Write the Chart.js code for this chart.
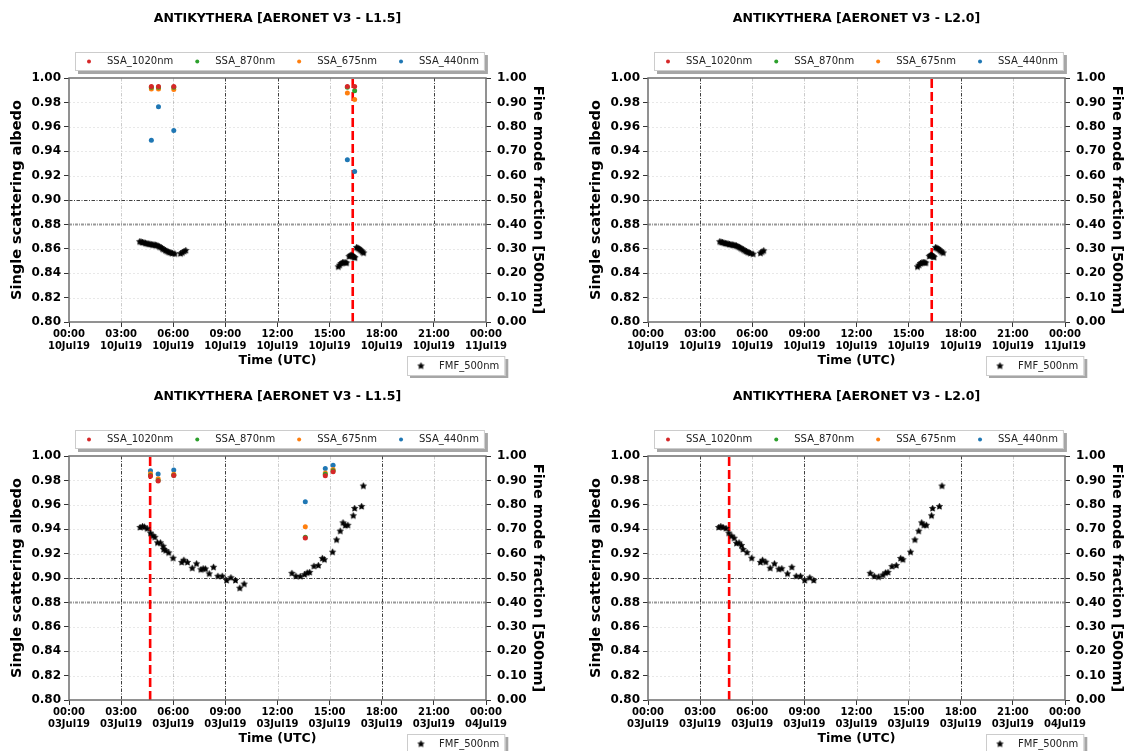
<!DOCTYPE html>
<html>
<head>
<meta charset="utf-8">
<script src="https://cdn.jsdelivr.net/npm/chart.js@4.4.1/dist/chart.umd.min.js"></script>
<style>
  html, body { margin: 0; padding: 0; background: #fff; overflow: hidden; }
  canvas { position: absolute; }
</style>
</head>
<body>
<canvas id="panel-10-l15" width="549" height="378" style="left:0px;top:0px"></canvas>
<canvas id="panel-10-l20" width="549" height="378" style="left:579px;top:0px"></canvas>
<canvas id="panel-03-l15" width="549" height="378" style="left:0px;top:378px"></canvas>
<canvas id="panel-03-l20" width="549" height="378" style="left:579px;top:378px"></canvas>
<script>
// tick labels
const hourLabels = ['00:00', '03:00', '06:00', '09:00', '12:00', '15:00', '18:00', '21:00', '00:00'];
const dayLabels10 = ['10Jul19', '10Jul19', '10Jul19', '10Jul19', '10Jul19', '10Jul19', '10Jul19', '10Jul19', '11Jul19'];
const dayLabels03 = ['03Jul19', '03Jul19', '03Jul19', '03Jul19', '03Jul19', '03Jul19', '03Jul19', '03Jul19', '04Jul19'];

// 10 Jul 2019 - SSA (level 1.5), time in hours UTC
const ssaTime10 = [4.74, 5.15, 6.03, 16.02, 16.44];
const ssa1020_10 = [0.993, 0.993, 0.993, 0.993, 0.993];
const ssa870_10 = [0.9925, 0.9925, 0.9925, 0.9924, 0.9895];
const ssa675_10 = [0.991, 0.991, 0.9905, 0.9877, 0.9824];
const ssa440_10 = [0.949, 0.9764, 0.957, 0.933, 0.9233];

// 03 Jul 2019 - SSA (level 1.5)
const ssaTime03 = [4.69, 5.13, 6.03, 13.6, 14.75, 15.2];
const ssa1020_03 = [0.9836, 0.9795, 0.984, 0.9327, 0.9838, 0.987];
const ssa870_03 = [0.9840, 0.9800, 0.9843, 0.9335, 0.985, 0.988];
const ssa675_03 = [0.9855, 0.9814, 0.985, 0.942, 0.986, 0.989];
const ssa440_03 = [0.988, 0.9852, 0.9885, 0.9625, 0.9898, 0.9924];

// fine mode fraction 500nm
const fmfTime10L15 = [4.07, 4.15, 4.23, 4.31, 4.40, 4.48, 4.56, 4.65, 4.73, 4.81, 4.89, 4.97, 5.05, 5.13, 5.21, 5.30, 5.38, 5.46, 5.55, 5.63, 5.71, 5.80, 5.88, 5.96, 6.09,
  6.42, 6.52, 6.62, 6.72,
  15.50, 15.58, 15.66, 15.74, 15.82, 15.90, 15.98,
  16.12, 16.18, 16.24, 16.30, 16.36, 16.42, 16.45,
  16.55, 16.62, 16.68, 16.75, 16.82, 16.89, 16.96];
const fmf10L15 = [0.329, 0.328, 0.326, 0.325, 0.323, 0.321, 0.320, 0.319, 0.318, 0.316, 0.316, 0.315, 0.314, 0.311, 0.308, 0.305, 0.300, 0.297, 0.293, 0.290, 0.287, 0.285, 0.283, 0.281, 0.279,
  0.280, 0.284, 0.289, 0.293,
  0.226, 0.233, 0.240, 0.243, 0.244, 0.243, 0.242,
  0.268, 0.272, 0.274, 0.271, 0.268, 0.265, 0.263,
  0.305, 0.303, 0.300, 0.296, 0.292, 0.287, 0.283];

const fmfTime10L20 = [4.13, 4.21, 4.29, 4.37, 4.45, 4.53, 4.61, 4.69, 4.77, 4.85, 4.93, 5.01, 5.09, 5.17, 5.25, 5.33, 5.41, 5.50, 5.58, 5.66, 5.74, 5.82, 5.90, 6.05,
  6.47, 6.56, 6.66,
  15.51, 15.60, 15.68, 15.76, 15.84, 15.92, 15.99,
  16.19, 16.25, 16.31, 16.37, 16.43, 16.46,
  16.55, 16.62, 16.69, 16.76, 16.83, 16.91, 16.99];
const fmf10L20 = [0.329, 0.327, 0.326, 0.324, 0.322, 0.321, 0.320, 0.318, 0.317, 0.316, 0.315, 0.314, 0.312, 0.309, 0.306, 0.303, 0.299, 0.296, 0.292, 0.289, 0.286, 0.284, 0.281, 0.278,
  0.282, 0.287, 0.292,
  0.226, 0.233, 0.240, 0.243, 0.244, 0.243, 0.242,
  0.269, 0.273, 0.274, 0.271, 0.268, 0.265,
  0.305, 0.303, 0.300, 0.296, 0.292, 0.287, 0.283];

const fmfTime03L15 = [4.09, 4.23, 4.34, 4.50, 4.69, 4.84, 4.94, 5.09, 5.26, 5.42, 5.45, 5.57, 5.74, 5.99, 6.49, 6.61, 6.82, 7.09, 7.34, 7.59,
  7.72, 7.85, 8.07, 8.32, 8.57, 8.82, 9.07, 9.32, 9.58, 9.83, 10.08,
  12.83, 13.06, 13.31, 13.56, 13.71, 13.85, 14.10, 14.35, 14.58, 14.70,
  15.17, 15.40, 15.61, 15.77, 15.90, 16.05, 16.36, 16.44, 16.84, 16.94];
const fmf03L15 = [0.707, 0.711, 0.709, 0.702, 0.684, 0.673, 0.667, 0.644, 0.644, 0.630, 0.617, 0.612, 0.603, 0.581, 0.564, 0.573, 0.564, 0.540, 0.558, 0.534,
  0.538, 0.537, 0.517, 0.544, 0.507, 0.507, 0.490, 0.501, 0.490, 0.458, 0.475,
  0.519, 0.507, 0.506, 0.514, 0.521, 0.523, 0.548, 0.551, 0.580, 0.575,
  0.606, 0.656, 0.692, 0.726, 0.715, 0.716, 0.755, 0.785, 0.793, 0.877];

const fmfTime03L20 = [4.07, 4.19, 4.32, 4.49, 4.65, 4.82, 4.96, 5.09, 5.24, 5.38, 5.47, 5.70, 5.97, 6.47, 6.59, 6.78, 7.03, 7.28, 7.53, 7.70,
  8.03, 8.28, 8.53, 8.78, 9.02, 9.31, 9.54,
  12.79, 13.02, 13.27, 13.52, 13.67, 13.81, 14.04, 14.29, 14.54, 14.67,
  15.11, 15.36, 15.58, 15.75, 15.88, 16.02, 16.32, 16.38, 16.77, 16.92];
const fmf03L20 = [0.707, 0.711, 0.707, 0.703, 0.684, 0.672, 0.663, 0.642, 0.644, 0.633, 0.617, 0.604, 0.581, 0.564, 0.573, 0.565, 0.540, 0.558, 0.536, 0.538,
  0.517, 0.544, 0.507, 0.507, 0.490, 0.501, 0.490,
  0.519, 0.507, 0.504, 0.512, 0.521, 0.523, 0.547, 0.551, 0.580, 0.575,
  0.606, 0.656, 0.692, 0.726, 0.716, 0.716, 0.755, 0.785, 0.793, 0.877];

// red dashed marker (hours UTC)
const eventTime10 = 16.33;
const eventTime03 = 4.67;

// layout of every panel canvas
const W = 549, H = 378;
const AREA_LEFT = 69, AREA_RIGHT = 486, AREA_TOP = 78, AREA_BOTTOM = 322;
const FONT = "'DejaVu Sans', sans-serif";

Chart.defaults.font.family = FONT;
Chart.defaults.color = '#000';

const ssaStyles = [
  { label: 'SSA_1020nm', color: '#d62728' },
  { label: 'SSA_870nm', color: '#2ca02c' },
  { label: 'SSA_675nm', color: '#ff7f0e' },
  { label: 'SSA_440nm', color: '#1f77b4' }
];

// filled star marker like matplotlib '*'
function starMarker(r) {
  const c = document.createElement('canvas');
  const s = Math.ceil(r * 2) + 2;
  c.width = c.height = s;
  const g = c.getContext('2d');
  g.translate(s / 2, s / 2);
  g.beginPath();
  for (let i = 0; i < 10; i++) {
    const rr = i % 2 ? r * 0.5 : r;
    const a = -Math.PI / 2 + i * Math.PI / 5;
    g.lineTo(rr * Math.cos(a), rr * Math.sin(a));
  }
  g.closePath();
  g.fillStyle = '#000';
  g.fill();
  g.strokeStyle = '#000';
  g.lineWidth = 0.6;
  g.stroke();
  return c;
}
const starImg = starMarker(3.3);

function drawLegendBox(ctx, left, top, h, items) {
  ctx.save();
  ctx.font = '10px ' + FONT;
  let x = left + 14;
  const pos = items.map(it => {
    const p = x;
    x += 18 + ctx.measureText(it.label).width + 24;
    return p;
  });
  const right = x - 24 + 6;
  ctx.fillStyle = 'rgba(0,0,0,0.35)';
  ctx.fillRect(left + 3, top + 3, right - left, h);
  ctx.fillStyle = '#fff';
  ctx.fillRect(left, top, right - left, h);
  ctx.strokeStyle = '#cccccc';
  ctx.lineWidth = 1;
  ctx.strokeRect(left + 0.5, top + 0.5, right - left - 1, h - 1);
  const cy = top + h / 2;
  items.forEach((it, i) => {
    if (it.star) {
      ctx.drawImage(starImg, pos[i] - starImg.width / 2, cy - starImg.height / 2);
    } else {
      ctx.fillStyle = it.color;
      ctx.beginPath();
      ctx.arc(pos[i], cy, 2, 0, Math.PI * 2);
      ctx.fill();
    }
    ctx.fillStyle = '#222';
    ctx.textAlign = 'left';
    ctx.textBaseline = 'middle';
    ctx.fillText(it.label, pos[i] + 18, cy);
  });
  ctx.restore();
}

// grid lines, plot frame and the two legends
const panelDecor = {
  id: 'panelDecor',
  beforeDatasetsDraw(chart, args, o) {
    const { ctx, chartArea: a, scales: { x, y } } = chart;
    ctx.save();
    ctx.lineWidth = 1;
    x.ticks.forEach(t => {
      if (t.value <= 0 || t.value >= 24) return;
      const px = Math.round(x.getPixelForValue(t.value)) + 0.5;
      const dark = o.darkX.includes(Math.round(t.value));
      ctx.strokeStyle = dark ? 'rgba(30,30,30,0.85)' : 'rgba(0,0,0,0.2)';
      ctx.setLineDash([3.5, 1.5, 1, 1.5]);
      ctx.beginPath();
      ctx.moveTo(px, a.top);
      ctx.lineTo(px, a.bottom);
      ctx.stroke();
    });
    y.ticks.forEach(t => {
      if (t.value <= 0.801 || t.value >= 0.999) return;
      const py = Math.round(y.getPixelForValue(t.value)) + 0.5;
      if (Math.abs(t.value - 0.90) < 1e-6) {
        ctx.strokeStyle = 'rgba(30,30,30,0.85)';
        ctx.lineWidth = 1;
        ctx.setLineDash([3.5, 1.5, 1, 1.5]);
      } else if (Math.abs(t.value - 0.88) < 1e-6) {
        ctx.strokeStyle = 'rgba(0,0,0,0.4)';
        ctx.lineWidth = 2;
        ctx.setLineDash([3, 1, 1, 1]);
      } else {
        ctx.strokeStyle = 'rgba(0,0,0,0.09)';
        ctx.lineWidth = 1;
        ctx.setLineDash([2, 2]);
      }
      ctx.beginPath();
      ctx.moveTo(a.left, py);
      ctx.lineTo(a.right, py);
      ctx.stroke();
    });
    ctx.restore();
  },
  afterDraw(chart) {
    const { ctx, chartArea: a } = chart;
    ctx.save();
    ctx.strokeStyle = '#6e6e6e';
    ctx.lineWidth = 1.5;
    ctx.strokeRect(a.left, a.top, a.right - a.left, a.bottom - a.top);
    ctx.restore();
    const ds = chart.data.datasets;
    drawLegendBox(ctx, 75, 52, 19,
      ds.filter(d => d.legendTop).map(d => ({ label: d.label, color: d.backgroundColor })));
    drawLegendBox(ctx, 407, 356, 20,
      ds.filter(d => d.legendBottom).map(d => ({ label: d.label, star: true })));
  }
};

function makePanel(id, p) {
  const ssaSets = [p.ssa1020, p.ssa870, p.ssa675, p.ssa440];
  const datasets = [{
    type: 'line',
    label: 'event',
    data: [{ x: p.event, y: 0.8 }, { x: p.event, y: 1.0 }],
    showLine: true,
    borderColor: '#ff0000',
    borderWidth: 2.6,
    borderDash: [9, 4],
    pointRadius: 0,
    yAxisID: 'y',
    order: 10
  }];
  // SSA_1020nm ends up on top, SSA_440nm at the bottom
  ssaStyles.forEach((s, k) => datasets.push({
    label: s.label,
    legendTop: true,
    data: p.ssaTime.map((t, i) => ({ x: t, y: ssaSets[k][i] })),
    pointStyle: 'circle',
    pointRadius: 2.5,
    pointBorderWidth: 0,
    backgroundColor: s.color,
    borderColor: s.color,
    yAxisID: 'y',
    order: k + 1
  }));
  datasets.push({
    label: 'FMF_500nm',
    legendBottom: true,
    data: p.fmfTime.map((t, i) => ({ x: t, y: p.fmf[i] })),
    pointStyle: starImg,
    pointRadius: 3,
    backgroundColor: '#000',
    borderColor: '#000',
    yAxisID: 'y2',
    order: 0
  });

  const tickGrid = { drawOnChartArea: false, tickLength: 5, tickColor: '#333', tickWidth: 1 };

  return new Chart(document.getElementById(id), {
    type: 'scatter',
    data: { datasets },
    plugins: [panelDecor],
    options: {
      responsive: false,
      animation: false,
      layout: { padding: 0 },
      plugins: {
        legend: { display: false },
        tooltip: { enabled: false },
        title: {
          display: true,
          text: p.title,
          fullSize: false,
          color: '#000',
          font: { size: 12.5, weight: 'bold' },
          padding: { top: 10.8, bottom: AREA_TOP - 10.8 - 15 }
        },
        panelDecor: { darkX: p.darkX }
      },
      scales: {
        x: {
          type: 'linear',
          min: 0,
          max: 24,
          ticks: {
            stepSize: 3,
            autoSkip: false,
            maxRotation: 0,
            padding: 2,
            font: { size: 10, weight: 'bold', lineHeight: 1.17 },
            callback: v => [hourLabels[Math.round(v / 3)], p.days[Math.round(v / 3)]]
          },
          grid: tickGrid,
          border: { display: false },
          title: {
            display: true,
            text: 'Time (UTC)',
            font: { size: 12.5, weight: 'bold' },
            padding: { top: 0, bottom: 9.5 }
          },
          afterFit: s => { s.height = H - AREA_BOTTOM; }
        },
        y: {
          type: 'linear',
          position: 'left',
          min: 0.8,
          max: 1.0,
          ticks: {
            stepSize: 0.02,
            padding: 3,
            font: { size: 12, weight: 'bold' },
            callback: v => v.toFixed(2)
          },
          grid: tickGrid,
          border: { display: false },
          title: {
            display: true,
            text: 'Single scattering albedo',
            font: { size: 14.5, weight: 'bold' },
            padding: { top: 8.8, bottom: 0 }
          },
          afterFit: s => { s.width = AREA_LEFT; }
        },
        y2: {
          type: 'linear',
          position: 'right',
          min: 0,
          max: 1,
          ticks: {
            stepSize: 0.1,
            padding: 6,
            font: { size: 12, weight: 'bold' },
            callback: v => v.toFixed(2)
          },
          grid: tickGrid,
          border: { display: false },
          title: {
            display: true,
            text: 'Fine mode fraction [500nm]',
            font: { size: 14.5, weight: 'bold' },
            padding: { top: 2.3, bottom: 0 }
          },
          afterFit: s => { s.width = W - AREA_RIGHT; }
        }
      }
    }
  });
}

makePanel('panel-10-l15', {
  title: 'ANTIKYTHERA [AERONET V3 - L1.5]', days: dayLabels10, event: eventTime10,
  ssaTime: ssaTime10, ssa1020: ssa1020_10, ssa870: ssa870_10, ssa675: ssa675_10, ssa440: ssa440_10,
  fmfTime: fmfTime10L15, fmf: fmf10L15, darkX: [9, 12, 21]
});
makePanel('panel-10-l20', {
  title: 'ANTIKYTHERA [AERONET V3 - L2.0]', days: dayLabels10, event: eventTime10,
  ssaTime: [], ssa1020: [], ssa870: [], ssa675: [], ssa440: [],
  fmfTime: fmfTime10L20, fmf: fmf10L20, darkX: [3, 18]
});
makePanel('panel-03-l15', {
  title: 'ANTIKYTHERA [AERONET V3 - L1.5]', days: dayLabels03, event: eventTime03,
  ssaTime: ssaTime03, ssa1020: ssa1020_03, ssa870: ssa870_03, ssa675: ssa675_03, ssa440: ssa440_03,
  fmfTime: fmfTime03L15, fmf: fmf03L15, darkX: [3, 9, 18]
});
makePanel('panel-03-l20', {
  title: 'ANTIKYTHERA [AERONET V3 - L2.0]', days: dayLabels03, event: eventTime03,
  ssaTime: [], ssa1020: [], ssa870: [], ssa675: [], ssa440: [],
  fmfTime: fmfTime03L20, fmf: fmf03L20, darkX: [3, 9, 18]
});
</script>
</body>
</html>
